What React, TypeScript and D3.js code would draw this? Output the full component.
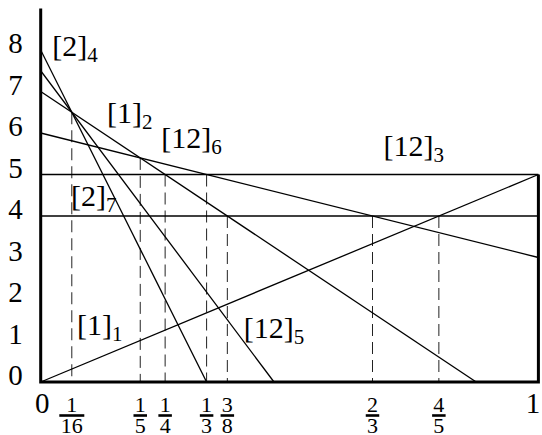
import React from "react";
import * as d3 from "d3";

// Solid line segments, each given as [x0, y0, x1, y1] in plot units
const segments: [number, number, number, number][] = [
  [0, 8, 1 / 3, 0],
  [0, 7.5, 15 / 32, 0],
  [0, 7, 7 / 8, 0],
  [0, 6, 1, 3],
  [0, 0, 1, 5],
  [0, 5, 1, 5],
  [0, 4, 1, 4],
];

// Dashed drop lines: x position and the height they start from
const dropX = [1 / 16, 1 / 5, 1 / 4, 1 / 3, 3 / 8, 2 / 3, 4 / 5];
const dropTop = [6.5, 5.4, 5, 5, 4, 4, 4];

// Fraction tick labels under the drop lines
const fracNum = ["1", "1", "1", "1", "3", "2", "4"];
const fracDen = ["16", "5", "4", "3", "8", "3", "5"];

// Integer ticks on the vertical axis
const yTicks = [0, 1, 2, 3, 4, 5, 6, 7, 8];

// Line labels: bracket text, subscript, and anchor (x, y) in plot units
const labelMain = ["[2]", "[1]", "[12]", "[12]", "[2]", "[1]", "[12]"];
const labelSub = ["4", "2", "6", "3", "7", "1", "5"];
const labelX = [0.023, 0.133, 0.242, 0.689, 0.061, 0.073, 0.408];
const labelY = [7.86, 6.24, 5.64, 5.45, 4.24, 1.13, 1.06];

const W = 542;
const H = 435;
const FONT = "'Liberation Serif', 'DejaVu Serif', serif";

export default function App() {
  const x = d3.scaleLinear().domain([0, 1]).range([40.7, 538.4]);
  const y = d3.scaleLinear().domain([0, 9]).range([382, 382 - 9 * 41.5]);
  const line = d3.line<[number, number]>().x((d) => x(d[0])).y((d) => y(d[1]));

  return (
    <svg
      width={W}
      height={H}
      viewBox={`0 0 ${W} ${H}`}
      style={{ position: "absolute", left: 0, top: 0, background: "#fff" }}
    >
      <rect width={W} height={H} fill="#fff" />

      {/* dashed drop lines */}
      {dropX.map((v, i) => (
        <path
          key={"d" + i}
          d={line([
            [v, dropTop[i]],
            [v, 0],
          ])!}
          stroke="#222"
          strokeWidth={1}
          strokeDasharray="12,6"
          fill="none"
        />
      ))}

      {/* solid lines */}
      {segments.map((s, i) => (
        <path
          key={"s" + i}
          d={line([
            [s[0], s[1]],
            [s[2], s[3]],
          ])!}
          stroke="#000"
          strokeWidth={1.3}
          fill="none"
        />
      ))}

      {/* frame: left axis, bottom axis, right edge */}
      <path
        d={line([
          [0, 9],
          [0, 0],
          [1, 0],
          [1, 5],
        ])!}
        stroke="#000"
        strokeWidth={3}
        fill="none"
        strokeLinejoin="miter"
      />

      {/* vertical axis tick labels */}
      {yTicks.map((t) => (
        <text
          key={"y" + t}
          x={15.5}
          y={y(t) + 3}
          textAnchor="middle"
          fontFamily={FONT}
          fontSize={29}
        >
          {t}
        </text>
      ))}

      {/* horizontal axis end labels */}
      <text x={x(0) + 1.5} y={413} textAnchor="middle" fontFamily={FONT} fontSize={29}>
        0
      </text>
      <text x={x(1) - 5.5} y={413} textAnchor="middle" fontFamily={FONT} fontSize={29}>
        1
      </text>

      {/* fraction tick labels */}
      {dropX.map((v, i) => {
        const cx = x(v);
        const w = Math.max(fracNum[i].length, fracDen[i].length) * 11.5 + 2;
        return (
          <g key={"f" + i} fontFamily={FONT} fontSize={22}>
            <text x={cx} y={412} textAnchor="middle">
              {fracNum[i]}
            </text>
            <line x1={cx - w / 2} x2={cx + w / 2} y1={415.5} y2={415.5} stroke="#000" strokeWidth={2.6} />
            <text x={cx} y={433} textAnchor="middle">
              {fracDen[i]}
            </text>
          </g>
        );
      })}

      {/* line labels */}
      {labelMain.map((m, i) => (
        <text key={"l" + i} x={x(labelX[i])} y={y(labelY[i])} fontFamily={FONT} fontSize={30}>
          {m}
          <tspan fontSize={21} dy={6}>
            {labelSub[i]}
          </tspan>
        </text>
      ))}
    </svg>
  );
}
